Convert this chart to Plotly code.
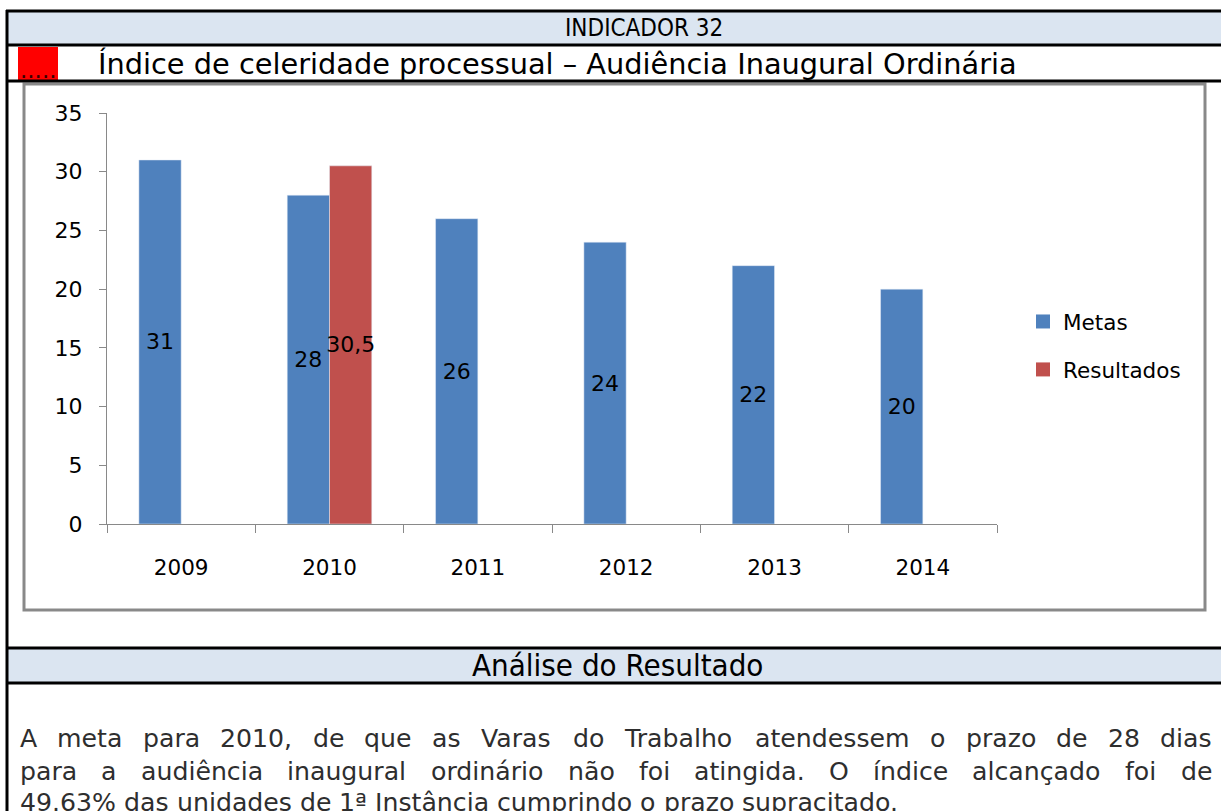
import plotly.graph_objects as go

# ---------------- data ----------------
years = ["2009", "2010", "2011", "2012", "2013", "2014"]
metas = [31, 28, 26, 24, 22, 20]
resultados = [None, 30.5, None, None, None, None]
series_names = ["Metas", "Resultados"]

header_title = "INDICADOR 32"
indicator_name = "Índice de celeridade processual – Audiência Inaugural Ordinária"
analysis_title = "Análise do Resultado"
paragraph_lines = [
    "A meta para 2010, de que as Varas do Trabalho atendessem o prazo de 28 dias",
    "para a audiência inaugural ordinário não foi atingida. O índice alcançado foi de",
    "49.63% das unidades de 1ª Instância cumprindo o prazo supracitado.",
]

W, H = 1221, 811
BLUE = "#4f81bd"
RED = "#c0504d"
BAND = "#dbe5f1"
GRAY = "#898989"
COND = "DejaVu Sans Condensed, Open Sans, DejaVu Sans"


def X(px):
    return px / W


def Y(py):
    return 1 - py / H


def fmt(v):
    if v is None:
        return ""
    return ("%g" % v).replace(".", ",")


fig = go.Figure()
for name, vals, col, grp in [(series_names[0], metas, BLUE, "a"), (series_names[1], resultados, RED, "b")]:
    fig.add_trace(go.Bar(
        name=name, x=years, y=vals, marker_color=col,
        text=[fmt(v) for v in vals], textposition="inside", insidetextanchor="middle",
        textangle=0, constraintext="none",
        textfont=dict(family="DejaVu Sans", size=22, color="black"),
        legendgroup=grp, showlegend=False,
    ))
# legend entries (square swatches like the original)
for name, col, grp in [(series_names[0], BLUE, "a"), (series_names[1], RED, "b")]:
    fig.add_trace(go.Scatter(
        name=name, x=[None], y=[None], mode="markers",
        marker=dict(symbol="square", size=14, color=col),
        legendgroup=grp, showlegend=True, hoverinfo="skip",
    ))

shapes = []
shapes.append(dict(type="rect", xref="paper", yref="paper", x0=X(7), x1=X(1221), y0=Y(11), y1=Y(45),
                   fillcolor=BAND, line=dict(width=0), layer="below"))
shapes.append(dict(type="rect", xref="paper", yref="paper", x0=X(7), x1=X(1221), y0=Y(648), y1=Y(683),
                   fillcolor=BAND, line=dict(width=0), layer="below"))
shapes.append(dict(type="rect", xref="paper", yref="paper", x0=X(18), x1=X(58), y0=Y(47), y1=Y(80),
                   fillcolor="#ff0000", line=dict(width=0), layer="below"))
for yy in [11, 45, 81, 648, 683]:
    shapes.append(dict(type="line", xref="paper", yref="paper", x0=X(6), x1=X(1221), y0=Y(yy), y1=Y(yy),
                       line=dict(color="black", width=3)))
shapes.append(dict(type="line", xref="paper", yref="paper", x0=X(7), x1=X(7), y0=Y(10), y1=Y(811),
                   line=dict(color="black", width=3)))
shapes.append(dict(type="rect", xref="paper", yref="paper", x0=X(24), x1=X(1205), y0=Y(84), y1=Y(610),
                   line=dict(color=GRAY, width=3), fillcolor="rgba(0,0,0,0)", layer="below"))

annotations = []
annotations.append(dict(text=header_title, xref="paper", yref="paper", x=X(644), y=Y(28),
                        xanchor="center", yanchor="middle", showarrow=False,
                        font=dict(family=COND, size=24, color="black")))
annotations.append(dict(text=".....", xref="paper", yref="paper", x=X(38), y=Y(70),
                        xanchor="center", yanchor="middle", showarrow=False, borderpad=0,
                        font=dict(family="DejaVu Sans", size=23, color="#3a0000")))
annotations.append(dict(text=indicator_name, xref="paper", yref="paper", x=X(97), y=Y(64),
                        xanchor="left", yanchor="middle", showarrow=False, borderpad=0,
                        font=dict(family="DejaVu Sans", size=28.8, color="black")))
annotations.append(dict(text=analysis_title, xref="paper", yref="paper", x=X(617), y=Y(665),
                        xanchor="center", yanchor="middle", showarrow=False,
                        font=dict(family=COND, size=31, color="black")))

# approximate DejaVu Sans advance widths (em)
WID = {" ": .318, "A": .684, "B": .686, "C": .698, "D": .770, "E": .632, "I": .295, "N": .748,
       "O": .787, "R": .695, "T": .611, "V": .684,
       "a": .613, "b": .635, "c": .550, "d": .635, "e": .615, "f": .352, "g": .635, "h": .634,
       "i": .278, "j": .278, "l": .278, "m": .974, "n": .634, "o": .612, "p": .635, "q": .635,
       "r": .411, "s": .521, "t": .392, "u": .634, "v": .592, "x": .592, "z": .525,
       ",": .318, ".": .318, "%": .950, "ª": .471,
       "á": .613, "â": .613, "ã": .613, "ê": .615, "é": .615, "í": .278, "ç": .550, "ó": .612}


def tw(s, size):
    return sum(WID.get(c, .636) for c in s) * size


PSIZE = 25.2
left, right = 20, 1212
line_y = [738, 771, 802]
for i, line in enumerate(paragraph_lines):
    words = line.split(" ")
    justify = i < len(paragraph_lines) - 1
    if justify:
        total = sum(tw(w, PSIZE) for w in words)
        gap = (right - left - total) / (len(words) - 1)
    else:
        gap = tw(" ", PSIZE)
    xpos = left
    for w in words:
        annotations.append(dict(text=w, xref="paper", yref="paper", x=X(xpos), y=Y(line_y[i]),
                                xanchor="left", yanchor="middle", showarrow=False,
                                borderpad=0, borderwidth=0,
                                font=dict(family="DejaVu Sans", size=PSIZE, color="#2e2e2e")))
        xpos += tw(w, PSIZE) + gap

fig.update_layout(
    width=W, height=H, autosize=False,
    margin=dict(l=0, r=0, t=0, b=0, pad=0, autoexpand=False),
    paper_bgcolor="white", plot_bgcolor="white",
    barmode="group", bargap=0.43, bargroupgap=0,
    font=dict(family="DejaVu Sans", color="black"),
    hovermode=False,
    xaxis=dict(domain=[X(107), X(997)], showgrid=False, showline=True, linecolor=GRAY, linewidth=1,
               ticks="outside", tickson="boundaries", ticklen=8, tickcolor=GRAY, automargin=False,
               tickfont=dict(family="DejaVu Sans", size=21.5, color="black"), ticklabelstandoff=24,
               fixedrange=True),
    yaxis=dict(domain=[Y(524), Y(113)], range=[0, 35], dtick=5, showgrid=False, zeroline=False,
               showline=True, linecolor=GRAY, linewidth=1, ticks="outside", ticklen=7, tickcolor=GRAY,
               automargin=False,
               tickfont=dict(family="DejaVu Sans", size=22, color="black"), ticklabelstandoff=12,
               fixedrange=True),
    legend=dict(x=X(1023), y=Y(301), xanchor="left", yanchor="top", bgcolor="rgba(0,0,0,0)",
                font=dict(family="DejaVu Sans", size=21.5, color="black"), tracegroupgap=17,
                itemwidth=30),
    shapes=shapes,
    annotations=annotations,
    showlegend=True,
)

fig.write_html(
    "out.html",
    config={"responsive": False, "displayModeBar": False},
    post_script="document.body.style.margin='0';document.body.style.overflow='hidden';",
)
